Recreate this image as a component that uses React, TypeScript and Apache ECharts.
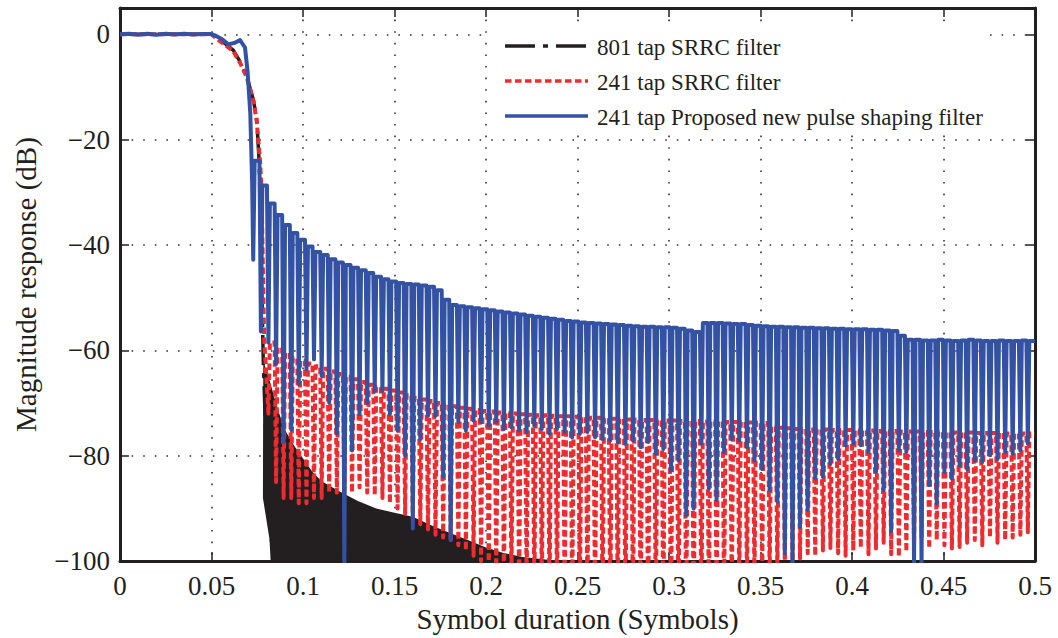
import React, { useEffect, useRef } from "react";
import * as echarts from "echarts";

// ---------- data ----------
const xTickLabels = ["0", "0.05", "0.1", "0.15", "0.2", "0.25", "0.3", "0.35", "0.4", "0.45", "0.5"];
const yTickLabels = ["−100", "−80", "−60", "−40", "−20", "0"];

const legendNames = [
  "801 tap SRRC filter",
  "241 tap SRRC filter",
  "241 tap Proposed new pulse shaping filter",
];

// Frequency of each sidelobe null (x position of each trough), 241-tap filters
const lobeX = [
  0.0728, 0.0770, 0.0811, 0.0853, 0.0894, 0.0936, 0.0977, 0.1019, 0.1060, 0.1102,
  0.1143, 0.1185, 0.1226, 0.1268, 0.1309, 0.1351, 0.1392, 0.1434, 0.1475, 0.1517,
  0.1558, 0.1600, 0.1641, 0.1683, 0.1724, 0.1766, 0.1807, 0.1849, 0.1890, 0.1932,
  0.1973, 0.2015, 0.2056, 0.2098, 0.2139, 0.2181, 0.2222, 0.2264, 0.2305, 0.2347,
  0.2388, 0.2430, 0.2471, 0.2513, 0.2554, 0.2596, 0.2637, 0.2679, 0.2720, 0.2762,
  0.2803, 0.2845, 0.2886, 0.2928, 0.2969, 0.3011, 0.3052, 0.3094, 0.3135, 0.3177,
  0.3218, 0.3260, 0.3301, 0.3343, 0.3384, 0.3426, 0.3467, 0.3509, 0.3550, 0.3592,
  0.3633, 0.3675, 0.3716, 0.3758, 0.3799, 0.3841, 0.3882, 0.3924, 0.3965, 0.4007,
  0.4048, 0.4090, 0.4131, 0.4173, 0.4214, 0.4256, 0.4297, 0.4339, 0.4380, 0.4422,
  0.4463, 0.4505, 0.4546, 0.4588, 0.4629, 0.4671, 0.4712, 0.4754, 0.4795, 0.4837,
  0.4878, 0.4920, 0.4961,
];

// Proposed filter (blue): passband + transition, then trough / sidelobe level
const blueHead = [
  [0, 0], [0.005, 0.12], [0.01, -0.08], [0.015, 0.1], [0.02, -0.08], [0.025, 0.1],
  [0.03, -0.05], [0.035, 0.1], [0.04, -0.05], [0.045, 0.08], [0.05, 0.05],
  [0.0525, -0.3], [0.056, -1.0], [0.0592, -1.9], [0.0628, -1.6], [0.0656, -1.1],
  [0.0683, -2.5], [0.0697, -7], [0.0712, -15], [0.0722, -28],
];
const blueTroughDb = [
  -42.8, -56.4, -58.5, -62.6, -77.4, -75, -66.4, -63.6, -61.7, -64.8,
  -69.9, -75.8, -101, -79, -72.1, -69.9, -67.7, -67.7, -72.1, -75.2,
  -80, -93.8, -76.8, -72.4, -72.4, -84, -96, -73.6, -75.2, -73.3,
  -73.6, -74.3, -73.6, -74.9, -74.6, -75.2, -75.5, -74.3, -74.9, -75.8,
  -74.9, -75.5, -76.5, -75.8, -75.5, -76.5, -76.8, -77.1, -77.4, -77.7,
  -77.1, -78.4, -77.4, -79.6, -78.7, -82.8, -80.9, -91.3, -90, -77.7,
  -86.2, -88.4, -79.3, -76.8, -77.1, -78.4, -80.9, -82.5, -86.5, -88.7,
  -98.5, -101, -93.5, -90.3, -84.3, -84, -81.5, -80.6, -78, -77.7,
  -78, -79.3, -83.1, -86.5, -94.4, -79, -79.3, -101, -101, -85.6,
  -89, -83.1, -84.3, -81.8, -82.5, -80.9, -81.2, -79.9, -80.6, -79.3,
  -79.6, -79, -77.7,
];
const bluePeakDb = [
  -24, -28.7, -32.1, -34.3, -36.2, -37.7, -39, -40.3, -41.3, -41.9,
  -42.7, -43.3, -43.8, -44.3, -44.8, -45.3, -46, -46.5, -46.9, -47.2,
  -47.4, -47.5, -47.7, -47.9, -48.6, -50.4, -51.4, -51.6, -51.8, -52,
  -52.2, -52.4, -52.6, -52.8, -53, -53.2, -53.4, -53.6, -53.8, -54,
  -54.2, -54.4, -54.5, -54.7, -54.8, -54.9, -55, -55.1, -55.2, -55.3,
  -55.4, -55.5, -55.5, -55.6, -55.6, -55.7, -55.9, -56.2, -56.5, -54.8,
  -54.8, -54.8, -54.9, -55, -55, -55.2, -55.3, -55.4, -55.5, -55.5,
  -55.6, -55.6, -55.7, -55.7, -55.8, -55.8, -55.9, -55.9, -56, -56,
  -56, -56.1, -56.1, -56.2, -56.3, -57.2, -58, -58, -58.1, -58.1,
  -58, -58.1, -58.2, -58.1, -58, -58.1, -58.2, -58.2, -58.1, -58.2,
  -58.2, -58.1, -58.2,
];

// 241 tap SRRC (red): passband + transition, then lobes starting at lobeX[2]
const redFirstLobe = 2;
const redHead = [
  [0, 0], [0.02, 0], [0.04, 0], [0.05, 0], [0.0546, -1.3], [0.0619, -3.2],
  [0.0656, -5.4], [0.0693, -8.2], [0.0729, -12.6], [0.0747, -16.5], [0.0765, -24],
  [0.0774, -30], [0.0781, -45], [0.0788, -58], [0.0795, -62],
];
const redTroughDb = [
  -72, -85, -88, -88, -89, -89, -88, -88, -87, -87,
  -86.5, -87, -86, -87, -87.5, -88, -89, -90, -91, -92,
  -93, -94, -95, -95.5, -96, -97, -98, -99, -100, -102,
  -103, -105, -104, -106, -105, -107, -106, -108, -107, -108,
  -109, -108, -110, -109, -110, -111, -110, -112, -111, -112,
  -113, -112, -113, -114, -113, -112, -113, -111, -110, -109,
  -108, -107, -106, -105, -104, -104, -103, -102, -101, -101,
  -99.5, -98.5, -99, -98, -97.5, -98.5, -99, -98, -97.5, -98.7,
  -97.6, -96.5, -98.7, -99.2, -98.2, -97, -95.5, -97.6, -96, -97,
  -97.6, -97.3, -96.5, -96, -97, -95.5, -96.5, -96, -95.5, -95,
  -94.5,
];
const redPeakDb = [
  -58.5, -59.5, -60.5, -61.5, -62, -62.5, -63, -63.5, -64, -64.5,
  -65, -65.5, -66, -66.5, -67, -67.3, -67.6, -68, -68.5, -69,
  -69.3, -69.6, -70, -70.3, -70.6, -70.9, -71.1, -71.3, -71.5, -71.6,
  -71.8, -71.9, -72, -72.1, -72.2, -72.3, -72.3, -72.4, -72.5, -72.5,
  -72.6, -72.7, -72.8, -72.8, -72.9, -73, -73, -73.1, -73.1, -73.2,
  -73.2, -73.3, -73.3, -73.3, -73.4, -73.4, -73.4, -73.5, -73.5, -73.5,
  -73.6, -73.6, -73.6, -73.7, -73.7, -73.8, -74.5, -74.7, -74.8, -74.9,
  -74.9, -75, -75, -75, -75.1, -75.1, -75.1, -75.2, -75.2, -75.2,
  -75.3, -75.3, -75.3, -75.4, -75.4, -75.4, -75.5, -75.5, -75.5, -75.6,
  -75.6, -75.6, -75.6, -75.7, -75.7, -75.7, -75.7, -75.8, -75.8, -75.8,
  -75.8,
];

// 801 tap SRRC (black): passband + transition
const blackHead = [
  [0, 0], [0.02, 0], [0.04, 0], [0.05, 0], [0.0546, -1.0], [0.0619, -3.0],
  [0.0656, -5.2], [0.0693, -8.0], [0.0729, -12.5], [0.0747, -16], [0.076, -24],
  [0.0768, -35], [0.0776, -50], [0.0783, -62], [0.08, -80], [0.0825, -95], [0.0836, -102],
];
// 801 tap sidelobes are too dense to separate: their upper envelope (filled below)
const blackLobeTop = [
  [0.0836, -100], [0.0781, -88], [0.0783, -62], [0.082, -66], [0.086, -71], [0.09, -75],
  [0.095, -78], [0.1, -80.5], [0.105, -83], [0.11, -84.8], [0.115, -85.8], [0.12, -86.8],
  [0.13, -88.6], [0.14, -90], [0.15, -90.8], [0.16, -91.6], [0.17, -93.2], [0.18, -94.6],
  [0.19, -96], [0.2, -97.4], [0.21, -98.5], [0.22, -99.2], [0.23, -99.6], [0.24, -100],
];

// ---------- styling ----------
const BLUE = "#3452a4";
const RED = "#ee2b2f";
const BLACK = "#231f20";
const FONT = "Liberation Serif";

function buildLobes(head: number[][], xs: number[], troughs: number[], peaks: number[], half: number) {
  const pts: number[][] = head.map((p) => [p[0], p[1]]);
  for (let i = 0; i < troughs.length; i++) {
    if (i > 0) pts.push([xs[i] - half, peaks[i - 1]]);
    pts.push([xs[i], troughs[i]]);
    pts.push([xs[i] + half, peaks[i]]);
  }
  pts.push([0.5, peaks[peaks.length - 1]]);
  return pts;
}

export default function App() {
  const ref = useRef<HTMLDivElement>(null);
  useEffect(() => {
    if (!ref.current) return;
    const chart = echarts.init(ref.current, undefined, { renderer: "svg" });

    const blueData = buildLobes(blueHead, lobeX, blueTroughDb, bluePeakDb, 0.0008);
    const redData = buildLobes(redHead, lobeX.slice(redFirstLobe), redTroughDb, redPeakDb, 0.0008);

    const axisLineStyle = { color: BLACK, width: 3 };
    const tick = { inside: true, length: 9, lineStyle: { color: BLACK, width: 1.5 } };
    const grid = { left: 120, right: 23, top: 8, bottom: 75 };

    const legendY = [46, 81, 116];
    const legendStyles = [
      { stroke: BLACK, lineWidth: 3.5, lineDash: [30, 8, 5, 8] },
      { stroke: RED, lineWidth: 3.5, lineDash: [6.5, 3.5] },
      { stroke: BLUE, lineWidth: 3.5 },
    ];
    const legendGraphics: any[] = [
      { type: "rect", left: 490, top: 27, shape: { width: 500, height: 107 }, style: { fill: "#fff" }, z: 50 },
    ];
    legendNames.forEach((name, i) => {
      legendGraphics.push({
        type: "line",
        shape: { x1: 505, y1: legendY[i], x2: 588, y2: legendY[i] },
        style: { ...legendStyles[i], lineCap: "butt" },
        z: 51,
      });
      legendGraphics.push({
        type: "text",
        x: 597,
        y: legendY[i] + 1,
        style: { text: name, fontFamily: FONT, fontSize: 23, fill: BLACK, verticalAlign: "middle", align: "left" },
        z: 51,
      });
    });

    chart.setOption({
      animation: false,
      textStyle: { fontFamily: FONT },
      grid,
      xAxis: [
        {
          type: "value", min: 0, max: 0.5, interval: 0.05, position: "bottom",
          name: "Symbol duration (Symbols)", nameLocation: "middle", nameGap: 41,
          nameTextStyle: { fontFamily: FONT, fontSize: 29, color: BLACK },
          axisLine: { onZero: false, lineStyle: axisLineStyle },
          axisTick: tick,
          axisLabel: {
            margin: 11, fontFamily: FONT, fontSize: 27, color: BLACK,
            formatter: (v: number) => xTickLabels[Math.round(v / 0.05)] ?? "",
          },
          splitLine: { show: true, lineStyle: { color: "#333", width: 1.6, type: [1.6, 10] } },
        },
        {
          type: "value", min: 0, max: 0.5, interval: 0.05, position: "top",
          axisLine: { onZero: false, lineStyle: axisLineStyle },
          axisTick: tick, axisLabel: { show: false }, splitLine: { show: false },
        },
      ],
      yAxis: [
        {
          type: "value", min: -100, max: 5, interval: 20, position: "left",
          name: "Magnitude response (dB)", nameLocation: "middle", nameGap: 80,
          nameTextStyle: { fontFamily: FONT, fontSize: 29, color: BLACK },
          axisLine: { onZero: false, lineStyle: axisLineStyle },
          axisTick: tick,
          axisLabel: {
            margin: 10, fontFamily: FONT, fontSize: 27, color: BLACK, showMaxLabel: false,
            formatter: (v: number) => {
              const idx = Math.round((v + 100) / 20);
              return Math.abs(v + 100 - idx * 20) < 1e-6 ? yTickLabels[idx] ?? "" : "";
            },
          },
          splitLine: { show: true, lineStyle: { color: "#333", width: 1.6, type: [1.6, 10] } },
        },
        {
          type: "value", min: -100, max: 5, interval: 20, position: "right",
          axisLine: { onZero: false, lineStyle: axisLineStyle },
          axisTick: tick, axisLabel: { show: false }, splitLine: { show: false },
        },
      ],
      series: [
        {
          name: "801 tap SRRC sidelobes", type: "line", data: blackLobeTop, symbol: "none",
          lineStyle: { width: 0 }, areaStyle: { color: BLACK, opacity: 1, origin: "start" },
          silent: true, clip: true,
        },
        {
          name: legendNames[0], type: "line", data: blackHead, symbol: "none", clip: true,
          lineStyle: { color: BLACK, width: 3.5, type: [30, 8, 5, 8] },
        },
        {
          name: legendNames[1], type: "line", data: redData, symbol: "none", clip: true,
          lineStyle: { color: RED, width: 4, type: [6.5, 3.5], join: "round" },
        },
        {
          name: legendNames[2], type: "line", data: blueData, symbol: "none", clip: true,
          lineStyle: { color: BLUE, width: 4, join: "round" },
        },
      ],
      graphic: legendGraphics,
    });
    return () => chart.dispose();
  }, []);
  return <div ref={ref} style={{ position: "fixed", left: 0, top: 0, width: 1058, height: 638, background: "#fff" }} />;
}
